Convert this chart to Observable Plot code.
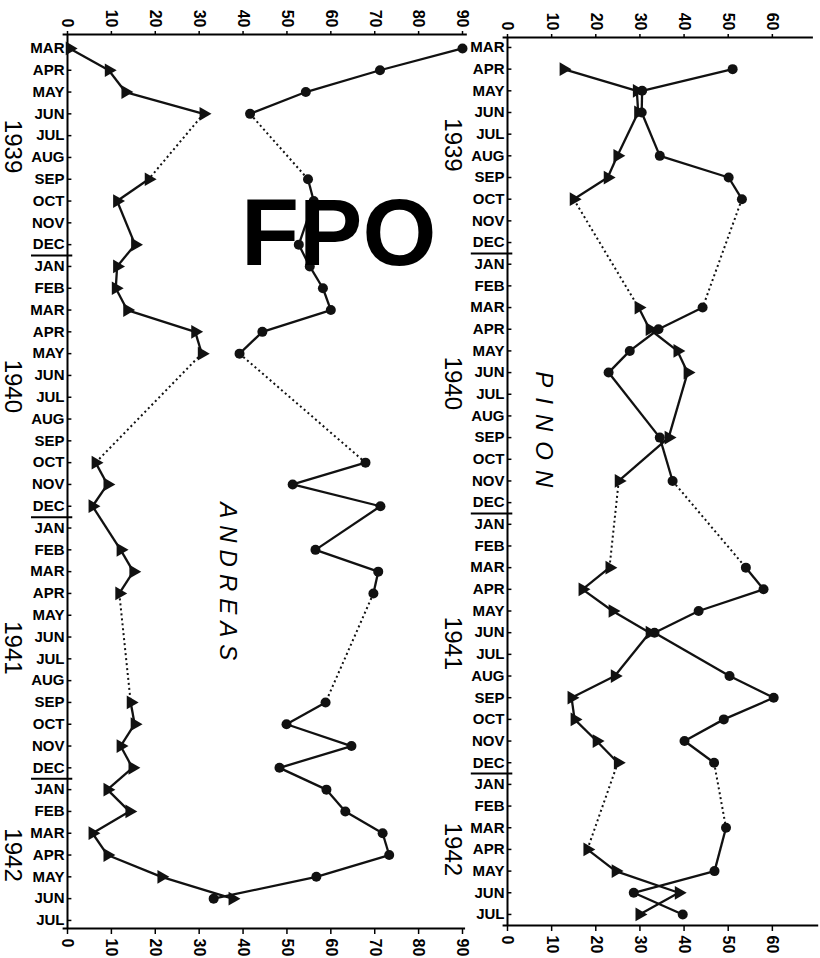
<!DOCTYPE html>
<html><head><meta charset="utf-8">
<script src="https://cdn.jsdelivr.net/npm/d3@7"></script>
<script src="https://cdn.jsdelivr.net/npm/@observablehq/plot@0.6"></script>
<style>
body{margin:0;background:#fff;}
#wrap{position:relative;width:820px;height:958px;overflow:hidden;background:#fff;}
#left,#right{position:absolute;top:0;}
#left{left:0;}
#right{left:440px;}
#fpo{position:absolute;left:241px;top:185px;font:bold 95px "Liberation Sans",Arial,sans-serif;line-height:95px;color:#000;z-index:5;}
</style></head><body>
<div id="wrap"><div id="left"></div><div id="right"></div><div id="fpo">FPO</div></div>
<script>
const months = ["MAR","APR","MAY","JUN","JUL","AUG","SEP","OCT","NOV","DEC",
  "JAN","FEB","MAR","APR","MAY","JUN","JUL","AUG","SEP","OCT","NOV","DEC",
  "JAN","FEB","MAR","APR","MAY","JUN","JUL","AUG","SEP","OCT","NOV","DEC",
  "JAN","FEB","MAR","APR","MAY","JUN","JUL"];
const years = ["1939","1940","1941","1942"];
const _ = null;

// ANDREAS (month index 0 = MAR 1939)
const andreasTriangle = [0.5,9.4,13.2,31,_,_,18.5,11.3,_,15.4,
  11.3,11,13.6,29.1,30.6,_,_,_,_,6.4,9.1,5.7,
  _,12.1,15,11.8,_,_,_,_,14.4,15.3,12.1,14.8,
  9.1,14.1,5.7,9.1,21.4,37.6,_];
const andreasCircle = [90,71.2,54.3,41.6,_,_,54.8,56.1,_,52.7,
  55.2,58.2,60,44.4,39.2,_,_,_,_,67.9,51.3,71.3,
  _,56.5,70.8,69.7,_,_,_,_,58.8,49.9,64.7,48.3,
  59,63.3,71.8,73.3,56.7,33.3,_];
const andreasBreaks = [3,14,25];

// PINON
const pinonTriangle = [_,12.7,29.3,29.6,_,24.9,22.7,15,_,_,
  _,_,29.7,32.2,38.5,40.8,_,_,36.5,_,25.2,_,
  _,_,23.1,17,23.8,32.2,_,24.3,14.5,15.2,20.2,25,
  _,_,_,18.1,24.5,38.8,29.9];
const pinonCircle = [_,51,30.5,30.4,_,34.5,50.1,53.1,_,_,
  _,_,44.2,34.2,27.7,22.9,_,_,34.5,_,37.4,_,
  _,_,54,58,43.3,33.3,_,50.3,60.3,49,40.1,46.8,
  _,_,49.5,_,46.9,28.6,39.7];
const pinonBreaks = [7,20,33];

const andreasTicks = [0,10,20,30,40,50,60,70,80,90];
const pinonTicks = [0,10,20,30,40,50,60];

function series(values, breaks) {
  const pts = values.map((v, i) => ({i, v})).filter(d => d.v != null);
  const segs = d3.pairs(pts).map(([a, b]) => ({x1: a.v, y1: a.i, x2: b.v, y2: b.i, broken: breaks.includes(a.i)}));
  return {pts, segs};
}

function panel(cfg) {
  const low = series(cfg.low, cfg.breaks), high = series(cfg.high, cfg.breaks);
  const segs = [...low.segs, ...high.segs];
  const idx = d3.range(months.length);
  const jan = idx.filter(i => months[i] === "JAN");
  const starts = [0, ...jan], ends = [...jan.map(j => j - 1), months.length - 1];
  const yearRows = years.map((y, k) => ({label: y, i: (starts[k] + ends[k]) / 2}));
  const font = 15;
  const svg = Plot.plot({
    width: cfg.width, height: 958,
    marginLeft: 67, marginRight: cfg.marginRight, marginTop: cfg.marginTop, marginBottom: cfg.marginBottom,
    style: {background: "transparent", fontFamily: "'Liberation Sans', Arial, sans-serif", color: "#000", overflow: "visible"},
    x: {domain: [0, cfg.xMax]},
    y: {domain: cfg.yDomain, reverse: true},
    marks: [
      Plot.ruleX([0], {strokeWidth: 2}),
      Plot.ruleY([cfg.yDomain[0]], {x1: -1, x2: cfg.topEnd, strokeWidth: 2}),
      Plot.ruleY([cfg.yDomain[1]], {x1: -1, x2: cfg.bottomEnd, strokeWidth: 2}),
      Plot.ruleY(idx, {x1: 0, x2: 1, strokeWidth: 1.5}),
      Plot.ruleY(jan.map(j => j - 0.5), {x1: -8.2, x2: 1.2, strokeWidth: 2}),
      Plot.axisX({anchor: "top", ticks: cfg.ticks, tickSize: 4, tickPadding: 3, tickRotate: 90, textAnchor: "end", fontSize: 16, fontWeight: "bold", strokeWidth: 1.5}),
      Plot.axisX({anchor: "bottom", ticks: cfg.ticks, tickSize: 6, tickPadding: 4, tickRotate: 90, textAnchor: "start", fontSize: 16, fontWeight: "bold", strokeWidth: 1.5}),
      Plot.axisY({ticks: idx, tickFormat: i => months[i], tickSize: 0, tickPadding: 3, fontSize: font, fontWeight: "bold"}),
      Plot.link(segs.filter(d => !d.broken), {x1: "x1", y1: "y1", x2: "x2", y2: "y2", strokeWidth: 2.3, stroke: "#111"}),
      Plot.link(segs.filter(d => d.broken), {x1: "x1", y1: "y1", x2: "x2", y2: "y2", strokeWidth: 2, strokeDasharray: "2,3", stroke: "#111"}),
      Plot.dot(high.pts, {x: "v", y: "i", r: 5, fill: "#111"}),
      Plot.dot(low.pts, {x: "v", y: "i", symbol: "triangle", r: 5.1, fill: "#111", rotate: 90}),
      Plot.text(yearRows, {x: -12.5, y: "i", text: "label", rotate: 90, fontSize: 24}),
      Plot.text([cfg.name], {x: cfg.nameX, y: cfg.nameY, text: d => d, rotate: 90, fontSize: 24, fontStyle: "italic"})
    ]
  });
  svg.querySelectorAll("text").forEach(t => {
    if (t.textContent === cfg.name) t.style.letterSpacing = cfg.nameSpacing + "px";
  });
  return svg;
}

document.getElementById("left").append(panel({
  name: "ANDREAS", nameX: 36.4, nameY: 24.6, nameSpacing: 7,
  low: andreasTriangle, high: andreasCircle, breaks: andreasBreaks,
  ticks: andreasTicks, xMax: 90, width: 470, marginRight: 8,
  marginTop: 34, marginBottom: 30, yDomain: [-0.64, 40.37], topEnd: 91.1, bottomEnd: 90.7
}));
document.getElementById("right").append(panel({
  name: "PINON", nameX: 8.2, nameY: 17.85, nameSpacing: 10,
  low: pinonTriangle, high: pinonCircle, breaks: pinonBreaks,
  ticks: pinonTicks, xMax: 70, width: 380, marginRight: 4,
  marginTop: 37, marginBottom: 33, yDomain: [-0.46, 40.51], topEnd: 69.3, bottomEnd: 70.5
}));
</script>
</body></html>
